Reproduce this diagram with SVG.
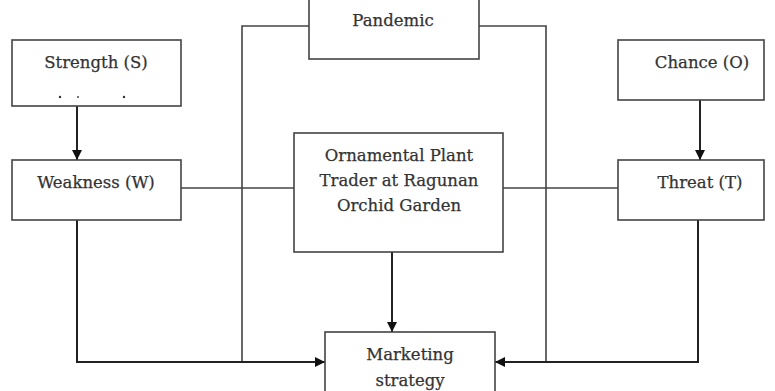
<svg xmlns="http://www.w3.org/2000/svg" width="775" height="391" viewBox="0 0 775 391">
<defs>
<marker id="arr" viewBox="0 0 10 10" refX="10" refY="5" markerWidth="10" markerHeight="10" markerUnits="userSpaceOnUse" orient="auto">
<path d="M0,0 L10,5 L0,10 z" fill="#111"/>
</marker>
</defs>
<style>
.box{fill:#fff;stroke:#444;stroke-width:1.6}
.t{font-family:"DejaVu Serif","Liberation Serif",serif;font-size:16.5px;fill:#333;stroke:#333;stroke-width:0.25;text-anchor:middle}
.c{fill:none;stroke:#444;stroke-width:1.6}
.ca{fill:none;stroke:#222;stroke-width:2;marker-end:url(#arr)}
</style>
<rect width="775" height="391" fill="#fff"/>
<g id="connectors">
<polyline class="c" points="309,26 242,26 242,362"/>
<polyline class="c" points="479,26 546,26 546,362"/>
<line class="c" x1="181" y1="188" x2="294" y2="188"/>
<line class="c" x1="503" y1="188" x2="618" y2="188"/>
<line class="ca" x1="77" y1="106" x2="77" y2="160"/>
<line class="ca" x1="700" y1="100" x2="700" y2="160"/>
<line class="ca" x1="392" y1="252" x2="392" y2="332"/>
<polyline class="ca" points="77,220 77,362 325,362"/>
<polyline class="ca" points="698,220 698,362 495,362"/>
</g>
<g id="pandemic">
<rect class="box" x="309" y="-2" width="170" height="61"/>
<text class="t" x="393" y="26">Pandemic</text>
</g>
<g id="strength">
<rect class="box" x="12" y="40" width="169" height="66"/>
<text class="t" x="96" y="68">Strength (S)</text>
<circle cx="60" cy="97" r="1.2" fill="#333"/>
<circle cx="78" cy="97" r="0.9" fill="#333"/>
<circle cx="124" cy="97" r="1.2" fill="#333"/>
</g>
<g id="weakness">
<rect class="box" x="12" y="160" width="169" height="60"/>
<text class="t" x="96" y="188">Weakness (W)</text>
</g>
<g id="chance">
<rect class="box" x="618" y="40" width="146" height="60"/>
<text class="t" x="702" y="68">Chance (O)</text>
</g>
<g id="threat">
<rect class="box" x="618" y="160" width="146" height="60"/>
<text class="t" x="700" y="188">Threat (T)</text>
</g>
<g id="trader">
<rect class="box" x="294" y="133" width="209" height="119"/>
<text class="t" x="399" y="161">Ornamental Plant</text>
<text class="t" x="399" y="186">Trader at Ragunan</text>
<text class="t" x="399" y="211">Orchid Garden</text>
</g>
<g id="marketing">
<rect class="box" x="325" y="332" width="170" height="70"/>
<text class="t" x="410" y="360">Marketing</text>
<text class="t" x="410" y="386">strategy</text>
</g>
</svg>
